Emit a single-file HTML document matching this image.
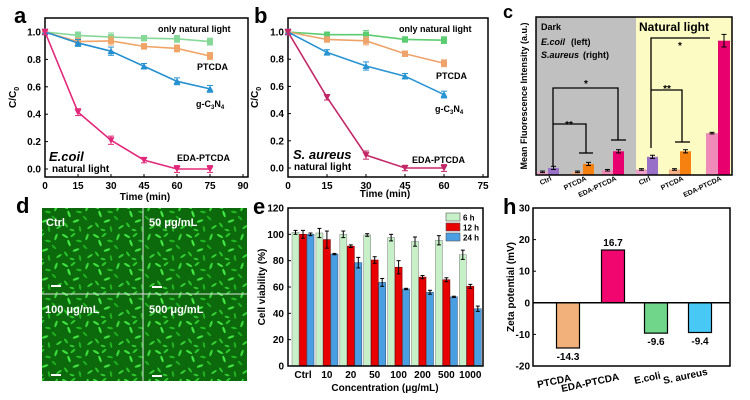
<!DOCTYPE html>
<html><head><meta charset="utf-8"><style>
html,body{margin:0;padding:0;background:#fff}
svg{display:block;font-family:"Liberation Sans",Arial,sans-serif;font-weight:bold}
</style></head><body>
<svg id="fig" width="750" height="400" viewBox="0 0 750 400" xmlns="http://www.w3.org/2000/svg">
<defs>
<pattern id="cells" width="31" height="29" patternUnits="userSpaceOnUse">
<rect width="31" height="29" fill="#0c6a0c"/>
<ellipse cx="3" cy="4" rx="3.5" ry="1.2" fill="#3ee03e" transform="rotate(30 3 4)"/>
<ellipse cx="11" cy="3" rx="3" ry="1.1" fill="#2cc82c" transform="rotate(-40 11 3)"/>
<ellipse cx="7" cy="11" rx="3.5" ry="1.2" fill="#44e844" transform="rotate(70 7 11)"/>
<ellipse cx="17" cy="9" rx="3" ry="1.1" fill="#22b822" transform="rotate(10 17 9)"/>
<ellipse cx="25" cy="5" rx="3.5" ry="1.2" fill="#3ad83a" transform="rotate(-70 25 5)"/>
<ellipse cx="23" cy="15" rx="3" ry="1.1" fill="#1fae1f" transform="rotate(45 23 15)"/>
<ellipse cx="14" cy="18" rx="3.5" ry="1.2" fill="#40e040" transform="rotate(-20 14 18)"/>
<ellipse cx="4" cy="22" rx="3" ry="1.1" fill="#2ac42a" transform="rotate(55 4 22)"/>
<ellipse cx="28" cy="24" rx="3.2" ry="1.1" fill="#36d036" transform="rotate(-35 28 24)"/>
<ellipse cx="18" cy="26" rx="3" ry="1.1" fill="#22b022" transform="rotate(80 18 26)"/>
<ellipse cx="10" cy="27" rx="2.5" ry="1" fill="#30c830" transform="rotate(15 10 27)"/>
</pattern>
</defs>
<g id="panelA"></g>
<g id="panelB"></g>
<g id="panelC"></g>
<g id="panelD">
<rect x="42" y="208" width="205" height="173" fill="url(#cells)"/>
<line x1="143" y1="208" x2="143" y2="381" stroke="#e0e0e0" stroke-width="1"/>
<line x1="42" y1="294" x2="247" y2="294" stroke="#e0e0e0" stroke-width="1"/>
<text x="46" y="226" fill="#fff" font-size="11">Ctrl</text>
<text x="149" y="226" fill="#fff" font-size="11">50 μg/mL</text>
<text x="45" y="313" fill="#fff" font-size="11">100 μg/mL</text>
<text x="149" y="313" fill="#fff" font-size="11">500 μg/mL</text>
<rect x="51" y="285" width="10" height="2" fill="#fff"/><rect x="152" y="286" width="10" height="2" fill="#fff"/>
<rect x="51" y="374" width="10" height="2" fill="#fff"/><rect x="152" y="375" width="10" height="2" fill="#fff"/>
</g>
<g id="panelE"></g>
<g id="panelH"></g>
<text x="14" y="23" font-size="22">a</text>
<text x="254" y="23" font-size="22">b</text>
<text x="503" y="18" font-size="18">c</text>
<text x="16" y="213" font-size="22">d</text>
<text x="253" y="214" font-size="22">e</text>
<text x="503" y="214" font-size="22">h</text>
</svg>
<script>
const NS="http://www.w3.org/2000/svg";
// ---- data ----
const timesA=[0,15,30,45,60,75];
const aOnly=[1.0,0.975,0.963,0.955,0.95,0.93];
const aPTCDA=[1.0,0.93,0.935,0.895,0.88,0.825];
const aGCN=[1.0,0.92,0.86,0.75,0.64,0.585];
const aEDA=[1.0,0.415,0.21,0.065,0,0];
const aErr=[0.02,0.025,0.03,0.02,0.025,0.025];
const timesB=[0,15,30,45,60];
const bOnly=[1.0,0.98,0.98,0.945,0.94];
const bPTCDA=[1.0,0.945,0.935,0.84,0.77];
const bGCN=[1.0,0.85,0.75,0.675,0.54];
const bEDA=[1.0,0.52,0.095,0,0];
const bErr=[0.02,0.02,0.03,0.02,0.025];
const yTicksAB=[0,0.2,0.4,0.6,0.8,1.0];
const xTicksA=[0,15,30,45,60,75,90];
const xTicksB=[0,15,30,45,60,75];
const cGroups=["Ctrl","PTCDA","EDA-PTCDA","Ctrl","PTCDA","EDA-PTCDA"];
const cEcoli=[2,2,3,3.5,3.5,26.5];
const cSaureus=[4.5,7,15,11.5,15,85];
const eCats=["Ctrl","10","20","50","100","200","500","1000"];
const e6h=[101.5,101,100,99.5,97.5,94.5,95.5,84.5];
const e12h=[100,96,91,80.5,75,67.5,65.5,60.5];
const e24h=[100,85,78.5,63.5,58.5,56,52.5,43.5];
const e6err=[1.5,3.5,2.5,1,2.5,3.5,3.5,3.5];
const e12err=[3,6.5,1,2.5,5,1.2,1.5,1.5];
const e24err=[1,0.5,4,3,0.5,1.5,0.5,2];
const eTicks=[0,20,40,60,80,100,120];
const hCats=["PTCDA","EDA-PTCDA","E.coli","S. aureus"];
const hVals=[-14.3,16.7,-9.6,-9.4];
const hTicks=[-20,-10,0,10,20,30];

function el(tag,attrs,parent,txt){const e=document.createElementNS(NS,tag);for(const k in attrs)e.setAttribute(k,attrs[k]);if(txt!==undefined)e.textContent=txt;parent.appendChild(e);return e;}

function linePanel(g,cfg){
 const {x0,x1,xmax,frameR,y0,y1,top,bot,times,series,xTicks,errs}=cfg;
 const sx=v=>x0+(x1-x0)*v/xmax, sy=v=>y0+(y1-y0)*v;
 const fr=el('rect',{x:x0,y:top,width:frameR-x0,height:bot-top,fill:'none',stroke:'#000','stroke-width':1.5},g);
 
 yTicksAB.forEach(t=>{el('line',{x1:x0,x2:x0+3,y1:sy(t),y2:sy(t),stroke:'#000'},g);
  const tx=el('text',{x:x0-4,y:sy(t)+3.5,'font-size':10,'text-anchor':'end'},g,t.toFixed(1));
  });
 xTicks.forEach(t=>{el('line',{x1:sx(t),x2:sx(t),y1:bot,y2:bot-3,stroke:'#000'},g);
  const tx=el('text',{x:sx(t),y:bot+12,'font-size':10,'text-anchor':'middle'},g,String(t));
  });
 series.forEach(s=>{
  const pts=s.vals.map((v,i)=>sx(times[i])+','+sy(v)).join(' ');
  const pl=el('polyline',{points:pts,fill:'none',stroke:s.color,'stroke-width':1.6},g);
  
  s.vals.forEach((v,i)=>{const x=sx(times[i]),y=sy(v),e=(errs[i]*(y1-y0));
   el('line',{x1:x,x2:x,y1:y-e,y2:y+e,stroke:s.color,'stroke-width':1},g);
   el('line',{x1:x-3,x2:x+3,y1:y-e,y2:y-e,stroke:s.color},g);el('line',{x1:x-3,x2:x+3,y1:y+e,y2:y+e,stroke:s.color},g);
   let m;
   if(s.mk==='sq')m=el('rect',{x:x-3,y:y-3,width:6,height:6,fill:s.color},g);
   else if(s.mk==='up')m=el('polygon',{points:`${x},${y-3.5} ${x-3.5},${y+3} ${x+3.5},${y+3}`,fill:s.color},g);
   else m=el('polygon',{points:`${x},${y+3.5} ${x-3.5},${y-3} ${x+3.5},${y-3}`,fill:s.color},g);
   });
 });
}
const gA=document.getElementById('panelA');
linePanel(gA,{x0:45,x1:243,xmax:90,frameR:248,y0:169,y1:32,top:18,bot:177,times:timesA,errs:aErr,xTicks:xTicksA,
 series:[{name:'only-light',vals:aOnly,color:'#86d898',mk:'sq'},{name:'ptcda',vals:aPTCDA,color:'#f0a466',mk:'sq'},{name:'gc3n4',vals:aGCN,color:'#2590d0',mk:'up'},{name:'eda-ptcda',vals:aEDA,color:'#e2287a',mk:'dn'}]});
const gB=document.getElementById('panelB');
linePanel(gB,{x0:288,x1:483,xmax:75,frameR:488,y0:168,y1:32,top:18,bot:177,times:timesB,errs:bErr,xTicks:xTicksB,
 series:[{name:'only-light',vals:bOnly,color:'#5ccc70',mk:'sq'},{name:'ptcda',vals:bPTCDA,color:'#eda36a',mk:'sq'},{name:'gc3n4',vals:bGCN,color:'#2894d2',mk:'up'},{name:'eda-ptcda',vals:bEDA,color:'#c22868',mk:'dn'}]});
function T(g,x,y,s,fs,name,extra){const t=el('text',Object.assign({x:x,y:y,'font-size':fs},extra||{}),g,s);return t;}
// a labels
T(gA,158,32,'only natural light',9,'series-label-only');T(gA,197,70,'PTCDA',9,'series-label-ptcda');
let t=T(gA,196,107,'g-C',9,'series-label-gc3n4');el('tspan',{'font-size':6,dy:2},t,'3');el('tspan',{'font-size':9,dy:-2},t,'N');el('tspan',{'font-size':6,dy:2},t,'4');
T(gA,177,161,'EDA-PTCDA',9,'series-label-eda');
T(gA,49,161,'E.coil',13,'strain-label',{'font-style':'italic'});T(gA,52,172,'natural light',10,'condition-label');
T(gA,145,200,'Time (min)',10,'x-axis-title',{'text-anchor':'middle'});
t=T(gA,0,0,'C/C',10,'y-axis-title',{transform:'translate(16,108) rotate(-90)'});el('tspan',{'font-size':7,dy:3},t,'0');
// b labels
T(gB,399,32,'only natural light',9,'series-label-only');T(gB,436,79,'PTCDA',9,'series-label-ptcda');
t=T(gB,435,112,'g-C',9,'series-label-gc3n4');el('tspan',{'font-size':6,dy:2},t,'3');el('tspan',{'font-size':9,dy:-2},t,'N');el('tspan',{'font-size':6,dy:2},t,'4');
T(gB,412,163,'EDA-PTCDA',9,'series-label-eda');
T(gB,293,159,'S. aureus',13,'strain-label',{'font-style':'italic'});T(gB,294,170,'natural light',10,'condition-label');
T(gB,385,197,'Time (min)',10,'x-axis-title',{'text-anchor':'middle'});
t=T(gB,0,0,'C/C',10,'y-axis-title',{transform:'translate(258,108) rotate(-90)'});el('tspan',{'font-size':7,dy:3},t,'0');

// panel c
const gC=document.getElementById('panelC');
const cL=536,cR=732,cT=17,cB=175,sc=v=>cB-(cB-cT)*v/100;
el('rect',{x:cL,y:cT,width:100,height:cB-cT,fill:'#c0c0c0'},gC);
el('rect',{x:636,y:cT,width:cR-636,height:cB-cT,fill:'#fdfbc4'},gC);
const cCenters=[548,583,613,647,680,718];
const cColL=['#f0a0c8','#f5b088','#f08ab8','#f0a0c8','#f5b088','#f08ab8'];
const cColR=['#9870c8','#f68010','#e8006e','#9870c8','#f68010','#e8006e'];
cGroups.forEach((g,i)=>{
 const w=i===5?12:11;
 const b1=el('rect',{x:cCenters[i]-w,y:sc(cEcoli[i]),width:w,height:cB-sc(cEcoli[i]),fill:cColL[i]},gC);
 
 const b2=el('rect',{x:cCenters[i],y:sc(cSaureus[i]),width:w,height:cB-sc(cSaureus[i]),fill:cColR[i]},gC);
 
 [[cCenters[i]-w/2,cEcoli[i],0.5],[cCenters[i]+w/2,cSaureus[i],cSaureus[i]>20?4:1]].forEach(([x,v,e])=>{const y=sc(v),d=e*1.58;
  el('line',{x1:x,x2:x,y1:y-d,y2:y+d,stroke:'#000'},gC);el('line',{x1:x-2.5,x2:x+2.5,y1:y-d,y2:y-d,stroke:'#000'},gC);el('line',{x1:x-2.5,x2:x+2.5,y1:y+d,y2:y+d,stroke:'#000'},gC);});
 T(gC,0,0,g,7,'x-label-'+g.toLowerCase(),{'text-anchor':'end',transform:`translate(${cCenters[i]+4},${cB+5}) rotate(-25)`});
});
el('rect',{x:cL,y:cT,width:cR-cL,height:cB-cT,fill:'none',stroke:'#000','stroke-width':1.5},gC);
const br=(pts)=>el('polyline',{points:pts,fill:'none',stroke:'#000','stroke-width':1.3},gC);
br('553,166 553,88 618,88 618,140');br('611,140 626,140');
br('553,124 586,124 586,153');br('579,153 593,153');
br('651,148 651,38 710,38');br('651,90 682,90 682,142');br('675,142 690,142');
T(gC,586,87,'*',10,'sig-star',{'text-anchor':'middle'});T(gC,569,128,'**',10,'sig-star',{'text-anchor':'middle'});
T(gC,680,49,'*',10,'sig-star',{'text-anchor':'middle'});T(gC,667,92,'**',10,'sig-star',{'text-anchor':'middle'});
T(gC,541,30,'Dark',9,'dark-label');T(gC,541,45,'E.coil',9,'legend-ecoli',{'font-style':'italic'});T(gC,571,45,'(left)',9,'legend-left');
T(gC,541,58,'S.aureus',9,'legend-saureus',{'font-style':'italic'});T(gC,583,58,'(right)',9,'legend-right');
T(gC,639,31,'Natural light',12,'light-label');
T(gC,0,0,'Mean Fluorescence Intensity (a.u.)',9,'y-axis-title',{'text-anchor':'middle',transform:'translate(527,96) rotate(-90)'});

// panel e
const gE=document.getElementById('panelE');
const eL=288,eR=483,eT=208,eB=366,se=v=>eB-(eB-eT)*v/120;
const ex=i=>303+i*23.9;
const eSeries=[[e6h,e6err,'#c8f0c8','#909090','6h',-7.5],[e12h,e12err,'#e80000','#800000','12h',0],[e24h,e24err,'#4a9ee2','#406080','24h',7.5]];
eCats.forEach((c,i)=>{
 eSeries.forEach(([vals,errs,fill,st,nm,off])=>{const x=ex(i)+off;const r=el('rect',{x:x-3.5,y:se(vals[i]),width:7,height:eB-se(vals[i]),fill:fill,stroke:st,'stroke-width':0.6},gE);
  
  const y=se(vals[i]),d=errs[i]*(eB-eT)/120;
  el('line',{x1:x,x2:x,y1:y-d,y2:y+d,stroke:'#000'},gE);el('line',{x1:x-2,x2:x+2,y1:y-d,y2:y-d,stroke:'#000'},gE);el('line',{x1:x-2,x2:x+2,y1:y+d,y2:y+d,stroke:'#000'},gE);});
 T(gE,ex(i),378,c,10,'x-tick-label',{'text-anchor':'middle'});
});
el('rect',{x:eL,y:eT,width:eR-eL,height:eB-eT,fill:'none',stroke:'#000','stroke-width':1.5},gE);
eTicks.forEach(v=>{el('line',{x1:eL,x2:eL+3,y1:se(v),y2:se(v),stroke:'#000'},gE);T(gE,eL-4,se(v)+3.5,String(v),10,'y-tick-label',{'text-anchor':'end'});});
[['6 h','#c8f0c8'],['12 h','#e80000'],['24 h','#4a9ee2']].forEach(([l,c],k)=>{const y=213+k*10;
 const r=el('rect',{x:446,y:y,width:14,height:8,fill:c,stroke:'#555','stroke-width':0.6},gE);
 T(gE,463,y+7.5,l,8,'legend-entry');});
T(gE,385,391,'Concentration (μg/mL)',10,'x-axis-title',{'text-anchor':'middle'});
T(gE,0,0,'Cell viability (%)',10,'y-axis-title',{'text-anchor':'middle',transform:'translate(265,287) rotate(-90)'});

// panel h
const gH=document.getElementById('panelH');
const hL=533,hR=730,hT=208,hB=366,sh=v=>hB-(hB-hT)*(v+20)/50;
const hX=[568,613,656,700];const hCol=['#f2b07a','#f0066e','#70d68a','#48c8f4'];
hCats.forEach((c,i)=>{const y0=sh(0),y=sh(hVals[i]);
 const r=el('rect',{x:hX[i]-11.5,y:Math.min(y,y0),width:23,height:Math.abs(y-y0),fill:hCol[i],stroke:'#000','stroke-width':1.2},gH);
 
 T(gH,hX[i],hVals[i]>0?y-4:y+12,String(hVals[i]),10,'value-label',{'text-anchor':'middle'});
});
el('line',{x1:hL,x2:hR,y1:sh(0),y2:sh(0),stroke:'#000','stroke-width':1.5},gH);
el('rect',{x:hL,y:hT,width:hR-hL,height:hB-hT,fill:'none',stroke:'#000','stroke-width':1.5},gH);
hTicks.forEach(v=>{el('line',{x1:hL,x2:hL+3,y1:sh(v),y2:sh(v),stroke:'#000'},gH);T(gH,hL-3,sh(v)+3.5,String(v),10,'y-tick-label',{'text-anchor':'end'});});
const hLx=[538,562,635,664];const hLy=[388,392,384,384];
hCats.forEach((c,i)=>T(gH,0,0,c,10,'x-label',{transform:`translate(${hLx[i]},${hLy[i]}) rotate(-12)`}));
T(gH,0,0,'Zeta potential (mV)',10,'y-axis-title',{'text-anchor':'middle',transform:'translate(514,287) rotate(-90)'});
</script>
</body></html>
